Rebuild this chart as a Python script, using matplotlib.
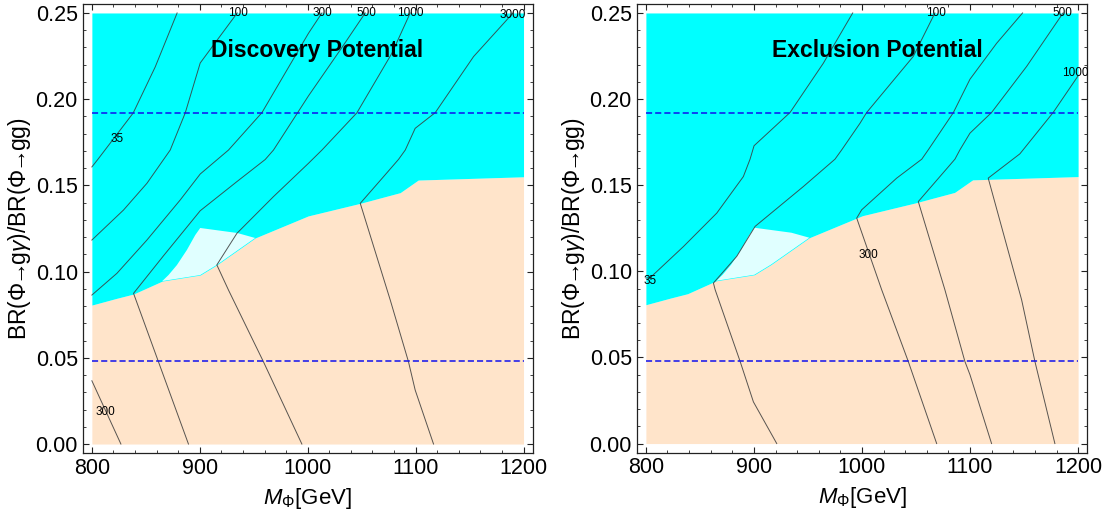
import matplotlib
matplotlib.use("Agg")
import matplotlib.pyplot as plt
from matplotlib.ticker import MultipleLocator, FormatStrFormatter

plt.rcParams['font.family'] = ['Liberation Sans', 'DejaVu Sans']
plt.rcParams['mathtext.fontset'] = 'custom'
plt.rcParams['mathtext.rm'] = 'Liberation Sans'
plt.rcParams['mathtext.it'] = 'Liberation Sans:italic'

# ---------------- data ----------------
# boundary between discovery/exclusion region (cyan, above) and the rest (peach, below)
boundary_x = [800, 823, 838.6, 865.2, 900.4, 915.8, 951.3, 1000.5, 1048.7, 1085.7, 1102.4, 1200]
boundary_y = [0.0806, 0.0845, 0.087, 0.0945, 0.098, 0.1039, 0.1195, 0.1323, 0.1396, 0.1458, 0.1531, 0.155]

# light cyan patch
patch_x = [865.2, 900.4, 915.8, 951.3, 934.7, 900.4, 895.8, 888.0, 878.8, 871.0]
patch_y = [0.0945, 0.098, 0.1039, 0.1195, 0.1224, 0.1253, 0.1212, 0.1125, 0.1038, 0.098]

dashed_levels = [0.192, 0.048]

# left panel (Discovery Potential) contour lines
disc_35_x = [879, 858.7, 838.3, 805.8, 800]
disc_35_y = [0.25, 0.2187, 0.192, 0.1653, 0.1607]
disc_100_x = [934.7, 900.4, 886.5, 872.6, 851.0, 829.3, 800]
disc_100_y = [0.25, 0.221, 0.192, 0.1705, 0.1512, 0.1357, 0.1183]
disc_300_x = [1013.2, 1000.7, 957.6, 926.6, 900.4, 881.8, 851.0, 823.2, 800]
disc_300_y = [0.25, 0.2382, 0.1922, 0.1705, 0.1566, 0.1415, 0.1183, 0.099, 0.0864]
disc_500_x = [1053.3, 1030.1, 1000.7, 968.3, 960.6, 934.4, 900.4, 866.4, 838.6, 861.7, 889.5]
disc_500_y = [0.25, 0.2285, 0.2019, 0.1705, 0.165, 0.1522, 0.1353, 0.1092, 0.0874, 0.0477, 0.0]
disc_1000_x = [1095, 1078, 1045.6, 1013.2, 1000.7, 968.3, 934.4, 915.8, 926.6, 959, 994.6]
disc_1000_y = [0.25, 0.2266, 0.1921, 0.1705, 0.1628, 0.1435, 0.1222, 0.1039, 0.0893, 0.0477, 0.0]
disc_3000_x = [1190.3, 1153.7, 1118.2, 1099.6, 1090.4, 1084.2, 1070.2, 1048.7, 1076.5, 1093.4, 1099.6, 1116.6]
disc_3000_y = [0.25, 0.2247, 0.1922, 0.1831, 0.1705, 0.1651, 0.155, 0.1396, 0.0835, 0.0477, 0.0313, 0.0]
disc_300b_x = [800, 826.9]
disc_300b_y = [0.0367, 0.0]

disc_label_text = ['35', '100', '300', '500', '1000', '3000', '300']
disc_label_x = [823.2, 935.7, 1013.7, 1054.2, 1095, 1190.3, 812.3]
disc_label_y = [0.1767, 0.2497, 0.2497, 0.2497, 0.2497, 0.2488, 0.0184]

# right panel (Exclusion Potential) contour lines
excl_35_x = [991.4, 964.2, 933.4, 900.1, 896.4, 890.2, 865.6, 834.8, 804, 800]
excl_35_y = [0.25, 0.2208, 0.1922, 0.1729, 0.1651, 0.155, 0.1338, 0.1144, 0.0963, 0.0961]
excl_100_x = [1067.5, 1047.4, 1004.3, 998.2, 981.2, 975, 945.7, 901.1, 884.1, 862.5, 864.1, 887.2, 899.5, 921.1]
excl_100_y = [0.25, 0.2247, 0.1922, 0.186, 0.1705, 0.1651, 0.1492, 0.1261, 0.1087, 0.0932, 0.0893, 0.0477, 0.0242, 0.0]
excl_300_x = [1148.6, 1124.6, 1099.9, 1084.5, 1061.3, 1055.3, 1032.1, 999.7, 995.1, 1018.2, 1042.8, 1069.1]
excl_300_y = [0.25, 0.2324, 0.2115, 0.1921, 0.1705, 0.1651, 0.1541, 0.1357, 0.1309, 0.0893, 0.0477, 0.0]
excl_500_x = [1186.1, 1152.3, 1119.9, 1099.9, 1090.6, 1086, 1072.1, 1052.1, 1076.7, 1095.2, 1099.9, 1119.9]
excl_500_y = [0.25, 0.2189, 0.1922, 0.1802, 0.1705, 0.1651, 0.155, 0.1405, 0.0893, 0.0477, 0.04, 0.0]
excl_1000_x = [1200, 1176.9, 1146.1, 1116.8, 1147.7, 1160, 1178.5]
excl_1000_y = [0.2135, 0.1922, 0.1682, 0.1541, 0.0835, 0.0477, 0.0]

excl_label_text = ['35', '100', '500', '1000', '300']
excl_label_x = [803.5, 1068.5, 1185.6, 1197.5, 1005.8]
excl_label_y = [0.0945, 0.2497, 0.2497, 0.2152, 0.1096]

panel_titles = ['Discovery Potential', 'Exclusion Potential']
title_x = [1008.5, 1014.0]
title_y = [0.2247, 0.2247]

x_ticks = [800, 900, 1000, 1100, 1200]
y_ticks = [0.00, 0.05, 0.10, 0.15, 0.20, 0.25]

# ---------------- style ----------------
CYAN = '#00FFFF'
PEACH = '#FFE4CA'
LIGHT = '#E0FFFF'
LINE_C = '#3a3a3a'

fig = plt.figure(figsize=(11.13, 5.18), dpi=100)
ax1 = fig.add_axes([82.7 / 1113, 65.0 / 518, 450.0 / 1113, 449.0 / 518])
ax2 = fig.add_axes([636.7 / 1113, 65.5 / 518, 450.6 / 1113, 448.5 / 518])

disc_lines = [(disc_35_x, disc_35_y), (disc_100_x, disc_100_y), (disc_300_x, disc_300_y),
              (disc_500_x, disc_500_y), (disc_1000_x, disc_1000_y), (disc_3000_x, disc_3000_y),
              (disc_300b_x, disc_300b_y)]
excl_lines = [(excl_35_x, excl_35_y), (excl_100_x, excl_100_y), (excl_300_x, excl_300_y),
              (excl_500_x, excl_500_y), (excl_1000_x, excl_1000_y)]

panels = [(ax1, disc_lines, disc_label_text, disc_label_x, disc_label_y),
          (ax2, excl_lines, excl_label_text, excl_label_x, excl_label_y)]

ylab = r'BR($\Phi\!\!\rightarrow\!\!$g$\gamma$)/BR($\Phi\!\!\rightarrow\!\!$gg)'

for i, (ax, lines, ltxt, lx, ly) in enumerate(panels):
    ax.fill_between(boundary_x, 0, boundary_y, color=PEACH, lw=0, zorder=1)
    ax.fill_between(boundary_x, boundary_y, 0.25, color=CYAN, lw=0, zorder=1)
    ax.fill(patch_x, patch_y, color=LIGHT, lw=0, zorder=2)
    for xs, ys in lines:
        ax.plot(xs, ys, color=LINE_C, lw=0.7, alpha=0.85, zorder=3)
    for t, x, y in zip(ltxt, lx, ly):
        ax.text(x, y, t, fontsize=8.5, ha='center', va='center', color='black', zorder=5)
    for lv in dashed_levels:
        ax.plot([800, 1200], [lv, lv], color='#1010ee', lw=1.1,
                dashes=(4, 2), zorder=4)
    ax.text(title_x[i], title_y[i], panel_titles[i], fontsize=16.5, fontweight='bold',
            ha='center', va='baseline', zorder=6)

    ax.set_xlim(791.5, 1208.5)
    ax.set_ylim(-0.0052, 0.2552)
    ax.set_xticks(x_ticks)
    ax.set_yticks(y_ticks)
    ax.xaxis.set_minor_locator(MultipleLocator(20))
    ax.yaxis.set_minor_locator(MultipleLocator(0.01))
    ax.yaxis.set_major_formatter(FormatStrFormatter('%.2f'))
    ax.tick_params(which='both', direction='in', top=True, right=True, colors='#222222',
                   labelcolor='black', labelsize=15.5)
    ax.tick_params(which='major', length=4.5, width=0.8)
    ax.tick_params(which='minor', length=2.5, width=0.6)
    for s in ax.spines.values():
        s.set_color('#222222')
        s.set_linewidth(0.9)
    ax.set_xlabel(r'$M_{\Phi}$[GeV]', fontsize=16, labelpad=5)
    ax.set_ylabel(ylab, fontsize=16.5, labelpad=2)

fig.savefig('out.png', dpi=100)
